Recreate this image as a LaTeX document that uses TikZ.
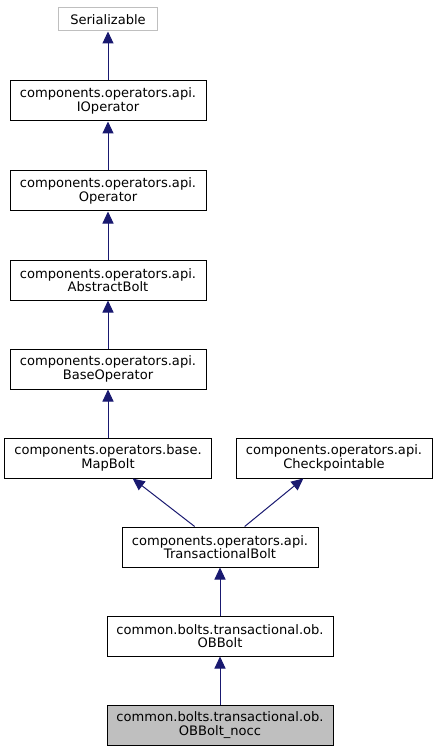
\documentclass[tikz,border=0pt]{standalone}
\usepackage{fontspec}
\setmainfont{DejaVu Sans}
\usetikzlibrary{arrows.meta}
\definecolor{edgeblue}{RGB}{25,25,112}
\definecolor{boxgray}{RGB}{191,191,191}
\begin{document}
\begin{tikzpicture}[x=0.75pt,y=-0.75pt,
	cls/.style={draw=black,fill=white,line width=0.75pt,align=center,inner sep=0pt,
		minimum width=147pt,minimum height=30pt,font=\fontsize{9.8}{10}\selectfont},
	inherit/.style={draw=edgeblue,line width=0.75pt,-{Triangle[length=9pt,width=8.25pt]}}]
	\useasboundingbox (0,0) rectangle (437,752);
	% Classes
	\node[cls,draw=boxgray,minimum width=74.25pt,minimum height=17.25pt] (ser) at (108,19.5) {Serializable};
	\node[cls] (iop) at (108,101) {components.operators.api.\\IOperator};
	\node[cls] (op) at (108,191) {components.operators.api.\\Operator};
	\node[cls] (ab) at (108,280) {components.operators.api.\\AbstractBolt};
	\node[cls] (bo) at (108,369) {components.operators.api.\\BaseOperator};
	\node[cls,minimum width=155.25pt] (mb) at (108,458) {components.operators.base.\\MapBolt};
	\node[cls] (cp) at (334,458) {components.operators.api.\\Checkpointable};
	\node[cls] (tb) at (220,547) {components.operators.api.\\TransactionalBolt};
	\node[cls,minimum width=169.5pt] (ob) at (220,636) {common.bolts.transactional.ob.\\OBBolt};
	\node[cls,fill=boxgray,minimum width=169.5pt] (nocc) at (220,725) {common.bolts.transactional.ob.\\OBBolt\_nocc};
	% Inheritance
	\draw[inherit] (iop) -- (ser);
	\draw[inherit] (op) -- (iop);
	\draw[inherit] (ab) -- (op);
	\draw[inherit] (bo) -- (ab);
	\draw[inherit] (mb) -- (bo);
	\draw[inherit] ([xshift=-19pt]tb.north) -- ([xshift=18.5pt]mb.south);
	\draw[inherit] ([xshift=18.5pt]tb.north) -- ([xshift=-23pt]cp.south);
	\draw[inherit] (ob) -- (tb);
	\draw[inherit] (nocc) -- (ob);
\end{tikzpicture}
\end{document}
